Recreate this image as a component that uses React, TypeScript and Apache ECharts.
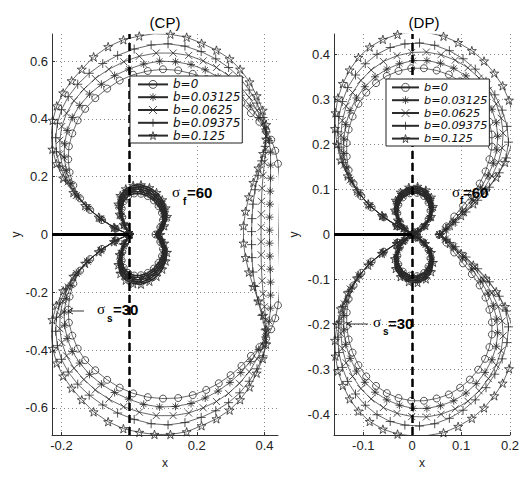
import React, { useEffect, useRef } from "react";
import * as echarts from "echarts";

// ---------- axes ----------
const cpXRange = [-0.228, 0.44];
const cpYRange = [-0.694, 0.694];
const dpXRange = [-0.16, 0.2];
const dpYRange = [-0.445, 0.445];
const cpXTicks = [-0.2, 0, 0.2, 0.4];
const cpYTicks = [-0.6, -0.4, -0.2, 0, 0.2, 0.4, 0.6];
const dpXTicks = [-0.1, 0, 0.1, 0.2];
const dpYTicks = [-0.4, -0.3, -0.2, -0.1, 0, 0.1, 0.2, 0.3, 0.4];
const dashedX = 0;

const names = ["b=0", "b=0.03125", "b=0.0625", "b=0.09375", "b=0.125"];

// ---------- (CP) outer curves ----------
const cpB0 = [[0,0],[-0.04,0.02],[-0.08,0.05],[-0.115,0.085],[-0.145,0.125],[-0.165,0.17],[-0.176,0.215],[-0.18,0.26],[-0.178,0.305],[-0.168,0.35],[-0.152,0.395],[-0.13,0.435],[-0.1,0.472],[-0.065,0.505],[-0.028,0.533],[0.012,0.553],[0.055,0.566],[0.1,0.572],[0.145,0.568],[0.188,0.556],[0.228,0.538],[0.265,0.515],[0.3,0.487],[0.332,0.455],[0.36,0.42],[0.385,0.39],[0.405,0.36],[0.42,0.328],[0.432,0.29],[0.44,0.245],[0.444,0.195],[0.445,0.145],[0.444,0.095],[0.443,0.045],[0.442,0],
  [0.443,-0.045],[0.444,-0.095],[0.445,-0.145],[0.444,-0.195],[0.44,-0.245],[0.432,-0.29],[0.42,-0.328],[0.405,-0.36],[0.385,-0.39],[0.36,-0.42],[0.332,-0.455],[0.3,-0.487],[0.265,-0.515],[0.228,-0.538],[0.188,-0.556],[0.145,-0.566],[0.1,-0.568],[0.055,-0.563],[0.012,-0.55],[-0.028,-0.53],[-0.065,-0.503],[-0.1,-0.47],[-0.13,-0.435],[-0.152,-0.395],[-0.168,-0.35],[-0.178,-0.305],[-0.18,-0.26],[-0.176,-0.215],[-0.165,-0.17],[-0.145,-0.125],[-0.115,-0.085],[-0.08,-0.05],[-0.04,-0.02],[0,0]];
const cpB1 = [[0,0],[-0.041,0.021],[-0.082,0.052],[-0.119,0.089],[-0.15,0.13],[-0.172,0.176],[-0.186,0.222],[-0.192,0.268],[-0.191,0.314],[-0.183,0.36],[-0.168,0.405],[-0.146,0.447],[-0.117,0.486],[-0.082,0.52],[-0.043,0.55],[-0.001,0.573],[0.043,0.59],[0.09,0.6],[0.137,0.598],[0.183,0.588],[0.225,0.57],[0.263,0.545],[0.298,0.515],[0.33,0.482],[0.358,0.445],[0.383,0.405],[0.402,0.365],[0.414,0.325],[0.418,0.285],[0.418,0.24],[0.418,0.195],[0.417,0.15],[0.416,0.105],[0.415,0.06],[0.415,0.015],
  [0.415,-0.03],[0.416,-0.075],[0.417,-0.12],[0.418,-0.165],[0.418,-0.21],[0.418,-0.255],[0.414,-0.3],[0.402,-0.355],[0.383,-0.398],[0.358,-0.44],[0.33,-0.478],[0.298,-0.512],[0.263,-0.542],[0.225,-0.566],[0.183,-0.585],[0.137,-0.595],[0.09,-0.597],[0.043,-0.588],[-0.001,-0.57],[-0.043,-0.547],[-0.082,-0.518],[-0.117,-0.484],[-0.146,-0.445],[-0.168,-0.405],[-0.183,-0.36],[-0.191,-0.314],[-0.192,-0.268],[-0.186,-0.222],[-0.172,-0.176],[-0.15,-0.13],[-0.119,-0.089],[-0.082,-0.052],[-0.041,-0.021],[0,0]];
const cpB2 = [[0,0],[-0.042,0.022],[-0.084,0.055],[-0.123,0.093],[-0.156,0.135],[-0.18,0.182],[-0.196,0.23],[-0.204,0.278],[-0.205,0.326],[-0.199,0.374],[-0.185,0.42],[-0.163,0.463],[-0.134,0.503],[-0.1,0.54],[-0.06,0.572],[-0.016,0.598],[0.03,0.617],[0.08,0.628],[0.13,0.628],[0.176,0.62],[0.219,0.601],[0.258,0.578],[0.294,0.55],[0.326,0.515],[0.355,0.475],[0.378,0.43],[0.398,0.385],[0.405,0.34],[0.404,0.295],[0.4,0.25],[0.396,0.205],[0.393,0.16],[0.391,0.115],[0.39,0.07],[0.39,0.025],
  [0.39,-0.025],[0.39,-0.07],[0.391,-0.115],[0.393,-0.16],[0.396,-0.205],[0.4,-0.25],[0.404,-0.295],[0.405,-0.34],[0.398,-0.385],[0.378,-0.43],[0.355,-0.475],[0.326,-0.515],[0.294,-0.55],[0.258,-0.578],[0.219,-0.6],[0.176,-0.618],[0.13,-0.627],[0.08,-0.627],[0.03,-0.615],[-0.016,-0.596],[-0.06,-0.57],[-0.1,-0.538],[-0.134,-0.502],[-0.163,-0.463],[-0.185,-0.42],[-0.199,-0.374],[-0.205,-0.326],[-0.204,-0.278],[-0.196,-0.23],[-0.18,-0.182],[-0.156,-0.135],[-0.123,-0.093],[-0.084,-0.055],[-0.042,-0.022],[0,0]];
const cpB3 = [[0,0],[-0.043,0.023],[-0.087,0.057],[-0.126,0.096],[-0.16,0.14],[-0.187,0.188],[-0.205,0.237],[-0.215,0.286],[-0.217,0.335],[-0.212,0.385],[-0.2,0.432],[-0.18,0.477],[-0.152,0.52],[-0.118,0.558],[-0.078,0.592],[-0.034,0.62],[0.015,0.642],[0.065,0.656],[0.115,0.66],[0.165,0.652],[0.213,0.633],[0.256,0.608],[0.294,0.578],[0.327,0.543],[0.355,0.5],[0.378,0.455],[0.396,0.405],[0.405,0.355],[0.402,0.305],[0.392,0.255],[0.381,0.205],[0.372,0.155],[0.366,0.105],[0.363,0.055],[0.362,0.01],
  [0.362,-0.035],[0.363,-0.08],[0.366,-0.13],[0.372,-0.18],[0.381,-0.23],[0.392,-0.28],[0.402,-0.33],[0.405,-0.375],[0.396,-0.42],[0.378,-0.465],[0.355,-0.508],[0.327,-0.548],[0.294,-0.582],[0.256,-0.61],[0.213,-0.633],[0.165,-0.651],[0.115,-0.659],[0.065,-0.655],[0.015,-0.64],[-0.034,-0.618],[-0.078,-0.59],[-0.118,-0.556],[-0.152,-0.518],[-0.18,-0.476],[-0.2,-0.432],[-0.212,-0.385],[-0.217,-0.335],[-0.215,-0.286],[-0.205,-0.237],[-0.187,-0.188],[-0.16,-0.14],[-0.126,-0.096],[-0.087,-0.057],[-0.043,-0.023],[0,0]];
const cpB4 = [[0,0],[-0.045,0.025],[-0.09,0.06],[-0.13,0.1],[-0.165,0.145],[-0.195,0.195],[-0.215,0.245],[-0.227,0.295],[-0.23,0.345],[-0.226,0.395],[-0.214,0.445],[-0.195,0.49],[-0.17,0.532],[-0.14,0.572],[-0.105,0.615],[-0.062,0.65],[-0.017,0.674],[0.03,0.687],[0.075,0.695],[0.122,0.693],[0.17,0.683],[0.214,0.662],[0.258,0.638],[0.297,0.608],[0.328,0.572],[0.356,0.528],[0.377,0.48],[0.395,0.43],[0.405,0.38],[0.405,0.33],[0.396,0.28],[0.382,0.23],[0.367,0.18],[0.354,0.13],[0.344,0.08],[0.338,0.03],
  [0.338,-0.03],[0.344,-0.08],[0.354,-0.13],[0.367,-0.18],[0.382,-0.23],[0.396,-0.28],[0.405,-0.33],[0.405,-0.38],[0.395,-0.43],[0.377,-0.48],[0.356,-0.528],[0.328,-0.572],[0.297,-0.608],[0.258,-0.638],[0.214,-0.662],[0.17,-0.683],[0.122,-0.692],[0.075,-0.692],[0.03,-0.685],[-0.017,-0.672],[-0.062,-0.648],[-0.105,-0.614],[-0.14,-0.572],[-0.17,-0.532],[-0.195,-0.49],[-0.214,-0.445],[-0.226,-0.395],[-0.23,-0.345],[-0.227,-0.295],[-0.215,-0.245],[-0.195,-0.195],[-0.165,-0.145],[-0.13,-0.1],[-0.09,-0.06],[-0.045,-0.025],[0,0]];

// ---------- (CP) inner loops ----------
const cpIn0 = [[0,0],[-0.012,0.03],[-0.02,0.06],[-0.022,0.09],[-0.016,0.115],[-0.003,0.133],[0.015,0.142],[0.035,0.141],[0.055,0.133],[0.073,0.118],[0.087,0.098],[0.097,0.075],[0.1,0.05],[0.092,0.025],[0.078,0],[0.092,-0.025],[0.1,-0.05],[0.097,-0.075],[0.087,-0.098],[0.073,-0.118],[0.055,-0.133],[0.035,-0.141],[0.015,-0.142],[-0.003,-0.133],[-0.016,-0.115],[-0.022,-0.09],[-0.02,-0.06],[-0.012,-0.03],[0,0]];
const cpIn1 = [[0,0],[-0.013,0.031],[-0.022,0.063],[-0.025,0.094],[-0.019,0.12],[-0.005,0.139],[0.014,0.149],[0.035,0.148],[0.056,0.14],[0.075,0.124],[0.09,0.103],[0.1,0.079],[0.103,0.053],[0.095,0.026],[0.081,0],[0.095,-0.026],[0.103,-0.053],[0.1,-0.079],[0.09,-0.103],[0.075,-0.124],[0.056,-0.14],[0.035,-0.148],[0.014,-0.149],[-0.005,-0.139],[-0.019,-0.12],[-0.025,-0.094],[-0.022,-0.063],[-0.013,-0.031],[0,0]];
const cpIn2 = [[0,0],[-0.014,0.032],[-0.024,0.065],[-0.027,0.098],[-0.021,0.125],[-0.007,0.146],[0.013,0.157],[0.035,0.157],[0.058,0.148],[0.077,0.131],[0.093,0.109],[0.103,0.083],[0.106,0.056],[0.098,0.028],[0.085,0],[0.098,-0.028],[0.106,-0.056],[0.103,-0.083],[0.093,-0.109],[0.077,-0.131],[0.058,-0.148],[0.035,-0.157],[0.013,-0.157],[-0.007,-0.146],[-0.021,-0.125],[-0.027,-0.098],[-0.024,-0.065],[-0.014,-0.032],[0,0]];
const cpIn3 = [[0,0],[-0.015,0.034],[-0.026,0.068],[-0.03,0.101],[-0.024,0.13],[-0.009,0.152],[0.012,0.163],[0.035,0.165],[0.059,0.155],[0.079,0.138],[0.095,0.115],[0.105,0.088],[0.109,0.059],[0.101,0.029],[0.088,0],[0.101,-0.029],[0.109,-0.059],[0.105,-0.088],[0.095,-0.115],[0.079,-0.138],[0.059,-0.155],[0.035,-0.165],[0.012,-0.163],[-0.009,-0.152],[-0.024,-0.13],[-0.03,-0.101],[-0.026,-0.068],[-0.015,-0.034],[0,0]];
const cpIn4 = [[0,0],[-0.016,0.035],[-0.028,0.07],[-0.032,0.105],[-0.026,0.135],[-0.01,0.158],[0.012,0.17],[0.035,0.172],[0.06,0.162],[0.081,0.145],[0.098,0.12],[0.108,0.092],[0.112,0.062],[0.104,0.03],[0.092,0],[0.104,-0.03],[0.112,-0.062],[0.108,-0.092],[0.098,-0.12],[0.081,-0.145],[0.06,-0.162],[0.035,-0.172],[0.012,-0.17],[-0.01,-0.158],[-0.026,-0.135],[-0.032,-0.105],[-0.028,-0.07],[-0.016,-0.035],[0,0]];

// ---------- (DP) outer curves ----------
const dpB0 = [[0,0],[-0.03,0.018],[-0.058,0.038],[-0.083,0.06],[-0.104,0.085],[-0.12,0.113],[-0.13,0.143],[-0.134,0.173],[-0.134,0.203],[-0.13,0.233],[-0.122,0.262],[-0.11,0.29],[-0.094,0.315],[-0.074,0.336],[-0.052,0.352],[-0.028,0.363],[-0.002,0.369],[0.024,0.369],[0.05,0.364],[0.075,0.355],[0.098,0.34],[0.118,0.322],[0.135,0.3],[0.149,0.276],[0.158,0.25],[0.163,0.222],[0.163,0.195],[0.158,0.167],[0.15,0.14],[0.138,0.113],[0.122,0.088],[0.104,0.064],[0.086,0.04],[0.07,0.018],[0.055,0],
  [0.07,-0.018],[0.086,-0.04],[0.104,-0.064],[0.122,-0.088],[0.138,-0.113],[0.15,-0.14],[0.158,-0.167],[0.163,-0.195],[0.163,-0.222],[0.158,-0.25],[0.149,-0.276],[0.135,-0.3],[0.118,-0.322],[0.098,-0.34],[0.075,-0.355],[0.05,-0.364],[0.024,-0.369],[-0.002,-0.369],[-0.028,-0.363],[-0.052,-0.352],[-0.074,-0.336],[-0.094,-0.315],[-0.11,-0.29],[-0.122,-0.262],[-0.13,-0.233],[-0.134,-0.203],[-0.134,-0.173],[-0.13,-0.143],[-0.12,-0.113],[-0.104,-0.085],[-0.083,-0.06],[-0.058,-0.038],[-0.03,-0.018],[0,0]];
const dpB1 = [[0,0],[-0.03,0.018],[-0.059,0.039],[-0.085,0.062],[-0.106,0.088],[-0.123,0.117],[-0.134,0.148],[-0.14,0.18],[-0.14,0.212],[-0.136,0.244],[-0.127,0.275],[-0.114,0.303],[-0.097,0.328],[-0.076,0.35],[-0.052,0.367],[-0.026,0.379],[0.002,0.386],[0.03,0.386],[0.058,0.38],[0.085,0.369],[0.11,0.352],[0.131,0.331],[0.149,0.306],[0.163,0.278],[0.172,0.248],[0.175,0.218],[0.173,0.188],[0.166,0.158],[0.155,0.13],[0.14,0.103],[0.122,0.077],[0.103,0.052],[0.084,0.03],[0.068,0.012],[0.056,0],
  [0.068,-0.012],[0.084,-0.03],[0.103,-0.052],[0.122,-0.077],[0.14,-0.103],[0.155,-0.13],[0.166,-0.158],[0.173,-0.188],[0.175,-0.218],[0.172,-0.248],[0.163,-0.278],[0.149,-0.306],[0.131,-0.331],[0.11,-0.352],[0.085,-0.369],[0.058,-0.38],[0.03,-0.386],[0.002,-0.386],[-0.026,-0.379],[-0.052,-0.367],[-0.076,-0.35],[-0.097,-0.328],[-0.114,-0.303],[-0.127,-0.275],[-0.136,-0.244],[-0.14,-0.212],[-0.14,-0.18],[-0.134,-0.148],[-0.123,-0.117],[-0.106,-0.088],[-0.085,-0.062],[-0.059,-0.039],[-0.03,-0.018],[0,0]];
const dpB2 = [[0,0],[-0.031,0.019],[-0.06,0.04],[-0.087,0.064],[-0.109,0.091],[-0.127,0.121],[-0.139,0.154],[-0.145,0.187],[-0.146,0.22],[-0.143,0.253],[-0.135,0.285],[-0.122,0.315],[-0.105,0.342],[-0.084,0.365],[-0.059,0.384],[-0.031,0.397],[-0.001,0.404],[0.029,0.405],[0.059,0.399],[0.088,0.387],[0.114,0.37],[0.137,0.347],[0.156,0.32],[0.172,0.29],[0.182,0.258],[0.186,0.225],[0.184,0.192],[0.176,0.16],[0.163,0.13],[0.146,0.101],[0.126,0.074],[0.105,0.049],[0.085,0.027],[0.068,0.01],[0.056,0],
  [0.068,-0.01],[0.085,-0.027],[0.105,-0.049],[0.126,-0.074],[0.146,-0.101],[0.163,-0.13],[0.176,-0.16],[0.184,-0.192],[0.186,-0.225],[0.182,-0.258],[0.172,-0.29],[0.156,-0.32],[0.137,-0.347],[0.114,-0.37],[0.088,-0.387],[0.059,-0.399],[0.029,-0.405],[-0.001,-0.404],[-0.031,-0.397],[-0.059,-0.384],[-0.084,-0.365],[-0.105,-0.342],[-0.122,-0.315],[-0.135,-0.285],[-0.143,-0.253],[-0.146,-0.22],[-0.145,-0.187],[-0.139,-0.154],[-0.127,-0.121],[-0.109,-0.091],[-0.087,-0.064],[-0.06,-0.04],[-0.031,-0.019],[0,0]];
const dpB3 = [[0,0],[-0.031,0.019],[-0.061,0.041],[-0.089,0.066],[-0.111,0.094],[-0.13,0.126],[-0.143,0.16],[-0.15,0.194],[-0.152,0.228],[-0.15,0.262],[-0.143,0.295],[-0.132,0.326],[-0.116,0.354],[-0.096,0.379],[-0.072,0.4],[-0.045,0.415],[-0.015,0.423],[0.015,0.425],[0.046,0.42],[0.076,0.408],[0.104,0.39],[0.129,0.367],[0.151,0.34],[0.169,0.31],[0.184,0.276],[0.194,0.24],[0.197,0.205],[0.192,0.17],[0.178,0.137],[0.158,0.105],[0.134,0.076],[0.11,0.05],[0.088,0.027],[0.07,0.01],[0.056,0],
  [0.07,-0.01],[0.088,-0.027],[0.11,-0.05],[0.134,-0.076],[0.158,-0.105],[0.178,-0.137],[0.192,-0.17],[0.197,-0.205],[0.194,-0.24],[0.184,-0.276],[0.169,-0.31],[0.151,-0.34],[0.129,-0.367],[0.104,-0.39],[0.076,-0.408],[0.046,-0.42],[0.015,-0.425],[-0.015,-0.423],[-0.045,-0.415],[-0.072,-0.4],[-0.096,-0.379],[-0.116,-0.354],[-0.132,-0.326],[-0.143,-0.295],[-0.15,-0.262],[-0.152,-0.228],[-0.15,-0.194],[-0.143,-0.16],[-0.13,-0.126],[-0.111,-0.094],[-0.089,-0.066],[-0.061,-0.041],[-0.031,-0.019],[0,0]];
const dpB4 = [[0,0],[-0.032,0.02],[-0.062,0.042],[-0.09,0.068],[-0.113,0.097],[-0.132,0.13],[-0.146,0.165],[-0.154,0.2],[-0.158,0.235],[-0.157,0.27],[-0.152,0.303],[-0.142,0.335],[-0.128,0.365],[-0.11,0.393],[-0.087,0.416],[-0.06,0.433],[-0.03,0.444],[0,0.449],[0.032,0.448],[0.064,0.44],[0.094,0.426],[0.122,0.408],[0.147,0.385],[0.168,0.358],[0.185,0.33],[0.198,0.298],[0.206,0.265],[0.207,0.23],[0.202,0.195],[0.19,0.16],[0.172,0.127],[0.15,0.097],[0.125,0.068],[0.1,0.042],[0.077,0.02],[0.058,0],
  [0.077,-0.02],[0.1,-0.042],[0.125,-0.068],[0.15,-0.097],[0.172,-0.127],[0.19,-0.16],[0.202,-0.195],[0.207,-0.23],[0.206,-0.265],[0.198,-0.298],[0.185,-0.33],[0.168,-0.358],[0.147,-0.385],[0.122,-0.408],[0.094,-0.426],[0.064,-0.44],[0.032,-0.446],[0,-0.447],[-0.03,-0.443],[-0.06,-0.432],[-0.087,-0.415],[-0.11,-0.392],[-0.128,-0.365],[-0.142,-0.335],[-0.152,-0.303],[-0.157,-0.27],[-0.158,-0.235],[-0.154,-0.2],[-0.146,-0.165],[-0.132,-0.13],[-0.113,-0.097],[-0.09,-0.068],[-0.062,-0.042],[-0.032,-0.02],[0,0]];

// ---------- (DP) inner figure-eight loops ----------
const dpIn0 = [[0,0],[-0.015,0.012],[-0.025,0.028],[-0.03,0.047],[-0.028,0.066],[-0.019,0.082],[-0.005,0.091],[0.01,0.092],[0.024,0.085],[0.033,0.071],[0.037,0.053],[0.033,0.034],[0.022,0.017],[0.01,0.006],[0,0],[-0.015,-0.012],[-0.025,-0.028],[-0.03,-0.047],[-0.028,-0.066],[-0.019,-0.082],[-0.005,-0.091],[0.01,-0.092],[0.024,-0.085],[0.033,-0.071],[0.037,-0.053],[0.033,-0.034],[0.022,-0.017],[0.01,-0.006],[0,0]];
const dpIn1 = [[0,0],[-0.016,0.0125],[-0.026,0.029],[-0.0315,0.049],[-0.0295,0.0685],[-0.02,0.085],[-0.0055,0.0945],[0.0105,0.095],[0.025,0.088],[0.0345,0.074],[0.0385,0.055],[0.0345,0.0355],[0.023,0.0175],[0.0105,0.006],[0,0],[-0.016,-0.0125],[-0.026,-0.029],[-0.0315,-0.049],[-0.0295,-0.0685],[-0.02,-0.085],[-0.0055,-0.0945],[0.0105,-0.095],[0.025,-0.088],[0.0345,-0.074],[0.0385,-0.055],[0.0345,-0.0355],[0.023,-0.0175],[0.0105,-0.006],[0,0]];
const dpIn2 = [[0,0],[-0.0165,0.013],[-0.0275,0.03],[-0.033,0.0505],[-0.031,0.071],[-0.0215,0.088],[-0.006,0.098],[0.0105,0.0995],[0.026,0.092],[0.036,0.077],[0.04,0.0575],[0.036,0.037],[0.0245,0.0185],[0.011,0.0065],[0,0],[-0.0165,-0.013],[-0.0275,-0.03],[-0.033,-0.0505],[-0.031,-0.071],[-0.0215,-0.088],[-0.006,-0.098],[0.0105,-0.0995],[0.026,-0.092],[0.036,-0.077],[0.04,-0.0575],[0.036,-0.037],[0.0245,-0.0185],[0.011,-0.0065],[0,0]];
const dpIn3 = [[0,0],[-0.017,0.0135],[-0.0285,0.031],[-0.0345,0.052],[-0.0325,0.0735],[-0.0225,0.091],[-0.0065,0.1015],[0.011,0.103],[0.027,0.0955],[0.0375,0.08],[0.0415,0.06],[0.0375,0.0385],[0.0255,0.019],[0.0115,0.0065],[0,0],[-0.017,-0.0135],[-0.0285,-0.031],[-0.0345,-0.052],[-0.0325,-0.0735],[-0.0225,-0.091],[-0.0065,-0.1015],[0.011,-0.103],[0.027,-0.0955],[0.0375,-0.08],[0.0415,-0.06],[0.0375,-0.0385],[0.0255,-0.019],[0.0115,-0.0065],[0,0]];
const dpIn4 = [[0,0],[-0.018,0.014],[-0.03,0.032],[-0.036,0.054],[-0.034,0.076],[-0.024,0.094],[-0.007,0.105],[0.011,0.107],[0.028,0.099],[0.039,0.083],[0.043,0.062],[0.039,0.04],[0.027,0.02],[0.012,0.007],[0,0],[-0.018,-0.014],[-0.03,-0.032],[-0.036,-0.054],[-0.034,-0.076],[-0.024,-0.094],[-0.007,-0.105],[0.011,-0.107],[0.028,-0.099],[0.039,-0.083],[0.043,-0.062],[0.039,-0.04],[0.027,-0.02],[0.012,-0.007],[0,0]];

const cpOuter = [cpB0, cpB1, cpB2, cpB3, cpB4];
const cpInner = [cpIn0, cpIn1, cpIn2, cpIn3, cpIn4];
const dpOuter = [dpB0, dpB1, dpB2, dpB3, dpB4];
const dpInner = [dpIn0, dpIn1, dpIn2, dpIn3, dpIn4];

const SYMBOLS = [
  "circle",
  "path://M5,0L5,10M0,5L10,5M1.5,1.5L8.5,8.5M8.5,1.5L1.5,8.5",
  "path://M0,0L10,10M10,0L0,10",
  "path://M5,0L5,10M0,5L10,5",
  "path://M50,2L61,37L98,37L68,59L79,94L50,72L21,94L32,59L2,37L39,37Z",
];
const SIZES = [7, 8, 7, 9, 9];
const FONT = "Liberation Sans, Arial, sans-serif";
const INK = "#2a2a2a";

function curve(name: string, i: number, data: number[][], g: number, scale: number, lw: number) {
  return {
    type: "line",
    name,
    xAxisIndex: g,
    yAxisIndex: g,
    data,
    symbol: SYMBOLS[i],
    symbolSize: SIZES[i] * scale,
    symbolKeepAspect: true,
    showSymbol: true,
    showAllSymbol: true,
    smooth: false,
    lineStyle: { color: INK, width: lw },
    itemStyle: { color: "rgba(0,0,0,0)", borderColor: INK, borderWidth: 0.8 },
    emphasis: { disabled: true },
    silent: true,
    z: 2,
  };
}

function xAxisFor(g: number, range: number[], ticks: number[]) {
  return {
    type: "value",
    gridIndex: g,
    min: range[0],
    max: range[1],
    name: "x",
    nameLocation: "middle",
    nameGap: 12,
    nameTextStyle: { fontFamily: FONT, fontSize: 12, color: "#222" },
    axisLine: { onZero: false, lineStyle: { color: "#333", width: 1 } },
    axisTick: { show: true, inside: true, length: 3, customValues: ticks, lineStyle: { color: "#333" } },
    axisLabel: { customValues: ticks, fontFamily: FONT, fontSize: 13, color: "#222", margin: 4 },
    splitLine: { show: true, lineStyle: { color: "#8a8a8a", width: 1, type: [1, 3] } },
  };
}
function yAxisFor(g: number, range: number[], ticks: number[], gap: number) {
  return {
    type: "value",
    gridIndex: g,
    min: range[0],
    max: range[1],
    name: "y",
    nameLocation: "middle",
    nameGap: gap,
    nameTextStyle: { fontFamily: FONT, fontSize: 12, color: "#222" },
    axisLine: { onZero: false, lineStyle: { color: "#333", width: 1 } },
    axisTick: { show: true, inside: true, length: 3, customValues: ticks, lineStyle: { color: "#333" } },
    axisLabel: { customValues: ticks, fontFamily: FONT, fontSize: 13, color: "#222", margin: 4 },
    splitLine: { show: true, lineStyle: { color: "#8a8a8a", width: 1, type: [1, 3] } },
  };
}

function guides(g: number, xMin: number) {
  return [
    {
      type: "line",
      name: "_neg" + g,
      xAxisIndex: g,
      yAxisIndex: g,
      data: [[xMin, 0], [dashedX, 0]],
      symbol: "none",
      lineStyle: { color: "#000", width: 3 },
      silent: true,
      z: 3,
    },
    {
      type: "line",
      name: "_dash" + g,
      xAxisIndex: g,
      yAxisIndex: g,
      data: [],
      silent: true,
      z: 3,
      markLine: {
        silent: true,
        symbol: ["none", "none"],
        label: { show: false },
        lineStyle: { color: "#000", width: 2.5, type: [8, 4] },
        data: [{ xAxis: dashedX }],
        z: 3,
      },
    },
  ];
}

function legendAt(left: number, top: number, fontSize: number, itemWidth: number, padL: number) {
  return {
    data: names,
    orient: "vertical",
    left,
    top,
    itemWidth,
    itemHeight: 10,
    itemGap: 0,
    padding: [2, 2, 1, padL],
    backgroundColor: "#fff",
    borderColor: "#222",
    borderWidth: 1,
    selectedMode: false,
    itemStyle: { borderWidth: 0.8 },
    textStyle: { fontFamily: "DejaVu Sans, sans-serif", fontStyle: "italic", fontSize, lineHeight: 12.8, color: "#111" },
    z: 10,
  };
}

function txt(x: number, y: number, text: string, font: string, align = "left") {
  return {
    type: "text",
    x,
    y,
    silent: true,
    z: 20,
    style: { text, font, fill: "#000", textAlign: align, textVerticalAlign: "middle", verticalAlign: "middle" },
  };
}

export default function App() {
  const ref = useRef<HTMLDivElement>(null);
  useEffect(() => {
    if (!ref.current) return;
    const chart = echarts.init(ref.current, undefined, { renderer: "svg" });
    const series: any[] = [];
    names.forEach((name, i) => {
      series.push(curve(name, i, cpOuter[i], 0, 1, 0.7));
      series.push(curve(name, i, cpInner[i], 0, 1.0, 1.6));
      series.push(curve(name, i, dpOuter[i], 1, 1, 0.7));
      series.push(curve(name, i, dpInner[i], 1, 0.95, 1.6));
    });
    series.push(...guides(0, cpXRange[0]), ...guides(1, dpXRange[0]));

    const arrow = (x1: number, x2: number, y: number) => [
      { type: "line", silent: true, z: 20, shape: { x1, y1: y, x2, y2: y }, style: { stroke: "#000", lineWidth: 0.8 } },
      { type: "polyline", silent: true, z: 20, shape: { points: [[x2 + 5, y - 3], [x2, y], [x2 + 5, y + 3]] }, style: { stroke: "#000", lineWidth: 0.8, fill: "none" } },
    ];

    chart.setOption({
      animation: false,
      backgroundColor: "#fff",
      grid: [
        { left: 52, top: 34, width: 226, height: 401 },
        { left: 334, top: 34, width: 179, height: 401 },
      ],
      xAxis: [xAxisFor(0, cpXRange, cpXTicks), xAxisFor(1, dpXRange, dpXTicks)],
      yAxis: [yAxisFor(0, cpYRange, cpYTicks, 25), yAxisFor(1, dpYRange, dpYTicks, 34)],
      legend: [legendAt(130, 76, 12, 30, 7), legendAt(386, 79, 11.3, 27, 5)],
      series,
      graphic: [
        txt(165, 22, "(CP)", `15px ${FONT}`, "center"),
        txt(424, 22, "(DP)", `15px ${FONT}`, "center"),
        txt(172, 192, "σ", "15px Liberation Serif, serif"),
        txt(183, 201, "f", `bold 10px ${FONT}`),
        txt(187, 192, "=60", `bold 15px ${FONT}`),
        txt(97, 309, "σ", "15px Liberation Serif, serif"),
        txt(107, 318, "s", `bold 10px ${FONT}`),
        txt(113, 309, "=30", `bold 15px ${FONT}`),
        ...arrow(84, 68, 311),
        txt(452, 192, "σ", "15px Liberation Serif, serif"),
        txt(460, 200, "f", `bold 10px ${FONT}`),
        txt(463, 192, "=60", `bold 15px ${FONT}`),
        txt(373, 322, "σ", "15px Liberation Serif, serif"),
        txt(383, 331, "s", `bold 10px ${FONT}`),
        txt(388, 323, "=30", `bold 15px ${FONT}`),
        ...arrow(368, 347, 324),
      ],
    });
    return () => chart.dispose();
  }, []);
  return <div ref={ref} style={{ position: "absolute", left: 0, top: 0, width: 522, height: 489 }} />;
}
